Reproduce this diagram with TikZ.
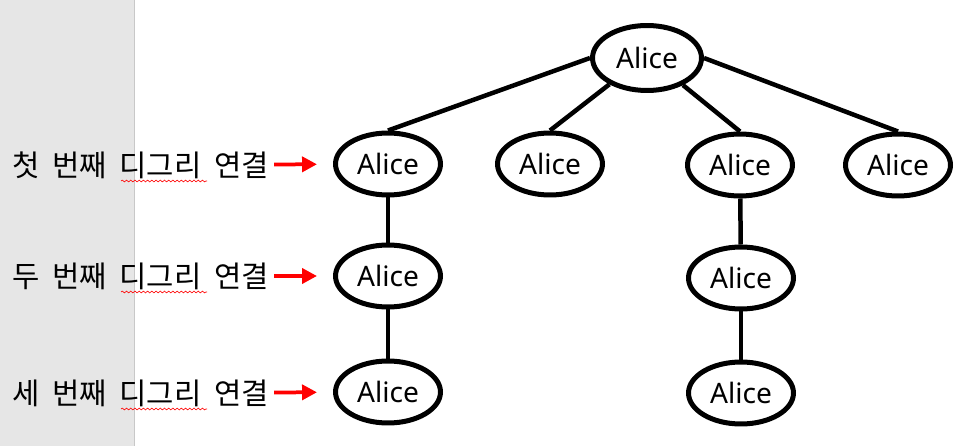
\documentclass[tikz,border=0pt]{standalone}
\usepackage{fontspec}
\setmainfont{Noto Sans}
\newfontfamily\kor[WordSpace={1.9}]{Noto Sans CJK KR}
\usepackage{tikz}
\usetikzlibrary{arrows.meta,decorations.pathmorphing,shapes.geometric}
\definecolor{panelgray}{RGB}{230,230,230}
\definecolor{panelline}{RGB}{200,200,200}

\begin{document}
\begin{tikzpicture}[x=0.02cm, y=-0.02cm]
  \tikzstyle{person} = [ellipse, draw, line width=0.1cm, minimum width=2.1cm, minimum height=1.24cm, inner sep=0pt, font=\fontsize{16}{18}\selectfont]
  \tikzstyle{link} = [line width=0.09cm]
  \tikzstyle{pointer} = [-{Triangle[length=0.3cm, width=0.3cm]}, red, line width=0.075cm, shorten <=0.1cm, shorten >=0.32cm]
  \tikzstyle{level} = [anchor=west, inner sep=0pt, font=\kor\fontsize{16.9}{18}\selectfont]
  \tikzstyle{squiggle} = [red, line width=0.35pt, decorate, decoration={snake, amplitude=0.5pt, segment length=2.4pt}]

  \useasboundingbox (0,0) rectangle (964,446);
  \fill[panelgray] (0,0) rectangle (134,446);
  \draw[panelline] (134,0) -- (134,446);

  \node[person, minimum width=2.18cm, minimum height=1.3cm] (root) at (647,58) {Alice};
  \node[person] (c1) at (388,164) {Alice};
  \node[person] (c2) at (550,164) {Alice};
  \node[person] (c3) at (740,165) {Alice};
  \node[person] (c4) at (898,165) {Alice};
  \node[person] (d1) at (388,276) {Alice};
  \node[person] (d3) at (741,278) {Alice};
  \node[person] (e1) at (388,392) {Alice};
  \node[person] (e3) at (741,393) {Alice};

  \draw[link] (root.west) -- (c1.north);
  \draw[link] (root.215) -- (c2.north);
  \draw[link] (root.323) -- (c3.north);
  \draw[link] (root.east) -- (c4.north);
  \draw[link] (c1) -- (d1);
  \draw[link] (d1) -- (e1);
  \draw[link] (c3) -- (d3);
  \draw[link] (d3) -- (e3);

  \node[level] (l1) at (12,165) {첫 번째 디그리 연결};
  \node[level] (l2) at (12,276) {두 번째 디그리 연결};
  \node[level] (l3) at (12,393) {세 번째 디그리 연결};

  \draw[pointer] (l1) -- (c1);
  \draw[pointer] (l2) -- (d1);
  \draw[pointer] (l3) -- (e1);

  \draw[squiggle] (121,181) -- (207,181);
  \draw[squiggle] (121,292) -- (207,292);
  \draw[squiggle] (121,409) -- (207,409);
\end{tikzpicture}
\end{document}
